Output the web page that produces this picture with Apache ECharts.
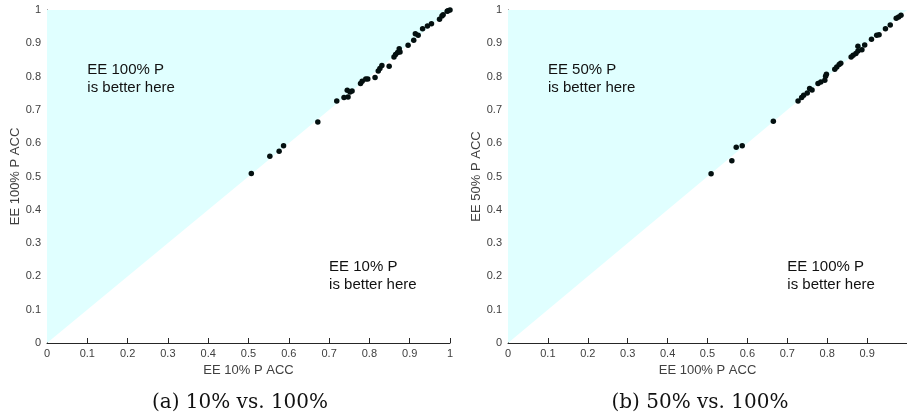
<!DOCTYPE html>
<html><head><meta charset="utf-8">
<script src="https://cdn.jsdelivr.net/npm/echarts@6/dist/echarts.min.js"></script>
<style>html,body{margin:0;padding:0;background:#fff}#c{width:907px;height:419px}</style>
</head><body><div id="c"></div>
<script>
// Left panel: x = EE 10% P ACC, y = EE 100% P ACC
const pointsA = [
 [0.507,0.509],[0.553,0.561],[0.576,0.576],[0.587,0.592],[0.672,0.664],[0.719,0.727],
 [0.737,0.737],[0.747,0.739],[0.745,0.759],[0.752,0.754],[0.757,0.757],[0.778,0.779],
 [0.782,0.786],[0.791,0.793],[0.796,0.793],[0.814,0.797],[0.822,0.817],[0.826,0.824],
 [0.831,0.833],[0.849,0.831],[0.861,0.859],[0.865,0.866],[0.870,0.872],[0.874,0.884],
 [0.876,0.874],[0.896,0.894],[0.910,0.909],[0.914,0.929],[0.921,0.924],[0.932,0.944],
 [0.944,0.952],[0.954,0.959],[0.974,0.972],[0.980,0.982],[0.983,0.986],[0.993,0.996],
 [0.995,0.998],[1.0,1.0]
];
// Right panel: x = EE 100% P ACC, y = EE 50% P ACC
const pointsB = [
 [0.509,0.508],[0.561,0.547],[0.572,0.588],[0.587,0.592],[0.665,0.666],[0.727,0.727],
 [0.736,0.737],[0.741,0.744],[0.750,0.751],[0.756,0.764],[0.762,0.760],[0.777,0.779],
 [0.784,0.784],[0.794,0.789],[0.796,0.801],[0.798,0.807],[0.819,0.822],[0.824,0.829],
 [0.830,0.836],[0.834,0.840],[0.860,0.859],[0.865,0.864],[0.872,0.869],[0.877,0.891],
 [0.877,0.877],[0.887,0.881],[0.894,0.895],[0.911,0.912],[0.924,0.924],[0.930,0.926],
 [0.946,0.944],[0.958,0.955],[0.973,0.975],[0.979,0.979],[0.985,0.984]
];
const diagonal = [[0,0],[1,1]];
const xNames = ['EE 10% P ACC','EE 100% P ACC'];
const yNames = ['EE 100% P ACC','EE 50% P ACC'];
const upperText = ['EE 100% P\nis better here','EE 50% P\nis better here'];
const lowerText = ['EE 10% P\nis better here','EE 100% P\nis better here'];
const captions = ['(a) 10% vs. 100%','(b) 50% vs. 100%'];

const chart = echarts.init(document.getElementById('c'));
const font = '"Liberation Sans", Arial, Helvetica, sans-serif';
const axisColor = '#262626';
const labColor = '#404040';
function xAxis(i){return {gridIndex:i,type:'value',min:0,max:1,interval:0.1,
  name:xNames[i],nameLocation:'middle',nameGap:20,
  nameTextStyle:{color:labColor,fontFamily:font,fontSize:13},
  axisLine:{show:true,lineStyle:{color:axisColor,width:1}},
  axisTick:{show:true,inside:true,length:5,lineStyle:{color:axisColor}},
  axisLabel:{color:labColor,fontFamily:font,fontSize:11,margin:5,showMaxLabel:i===0,
    formatter:v=>String(Math.round(v*10)/10)},
  splitLine:{show:false}};}
function yAxis(i){return {gridIndex:i,type:'value',min:0,max:1,interval:0.1,
  name:yNames[i],nameLocation:'middle',nameGap:24,nameRotate:90,
  nameTextStyle:{color:labColor,fontFamily:font,fontSize:13},
  axisLine:{show:true,lineStyle:{color:axisColor,width:1}},
  axisTick:{show:true,inside:true,length:5,lineStyle:{color:axisColor}},
  axisLabel:{color:labColor,fontFamily:font,fontSize:11,margin:6,
    formatter:v=>String(Math.round(v*10)/10)},
  splitLine:{show:false}};}

function fill(i){return {type:'line',xAxisIndex:i,yAxisIndex:i,data:diagonal,symbol:'none',
  lineStyle:{width:0},areaStyle:{color:'#E0FFFF',opacity:1,origin:'end'},silent:true,z:1};}
function pts(i,d){return {type:'scatter',xAxisIndex:i,yAxisIndex:i,data:d,symbolSize:5.5,
  itemStyle:{color:'#041010',opacity:1},z:3};}
function txt(i,d,pos){return {type:'scatter',xAxisIndex:i,yAxisIndex:i,data:[pos],symbolSize:0,
  itemStyle:{opacity:1},
  label:{show:true,formatter:d,position:'right',distance:0,color:'#111',opacity:1,fontFamily:font,fontSize:15,lineHeight:18,align:'left',verticalAlign:'top'},silent:true,z:4};}

chart.setOption({
  animation:false,
  grid:[{left:47,top:10,width:403,height:333},{left:508,top:10,width:403,height:333}],
  xAxis:[xAxis(0),xAxis(1)],
  yAxis:[yAxis(0),yAxis(1)],
  series:[fill(0),fill(1),pts(0,pointsA),pts(1,pointsB),
    txt(0,upperText[0],[0.1,0.848]),txt(1,upperText[1],[0.1,0.848]),
    txt(0,lowerText[0],[0.7,0.255]),txt(1,lowerText[1],[0.7,0.255])],
  graphic:[
    {type:'text',style:{text:captions[0],font:'20px "DejaVu Serif", "Liberation Serif", serif',fill:'#111',x:240,y:403,align:'center',verticalAlign:'middle'}},
    {type:'text',style:{text:captions[1],font:'20px "DejaVu Serif", "Liberation Serif", serif',fill:'#111',x:700,y:403,align:'center',verticalAlign:'middle'}}
  ]
});
</script></body></html>
